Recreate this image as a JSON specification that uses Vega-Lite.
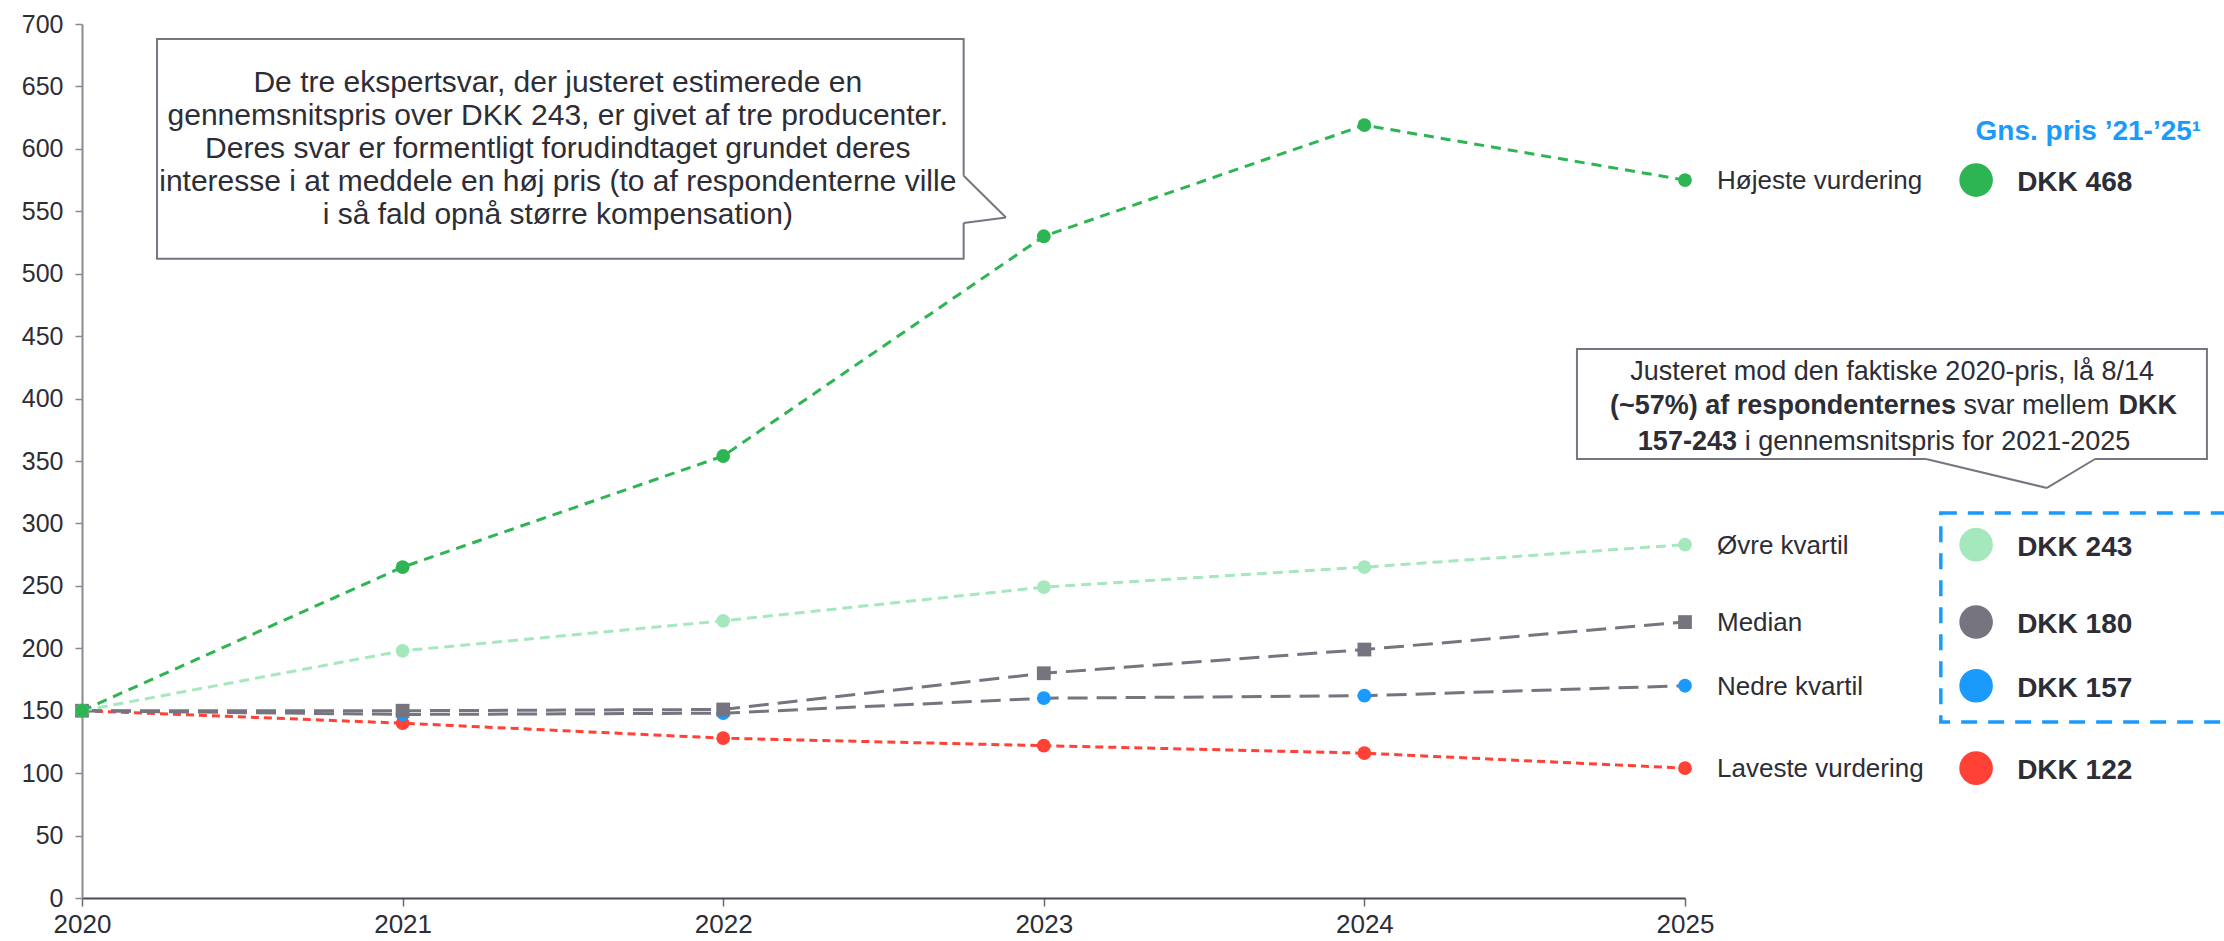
{
  "$schema": "https://vega.github.io/schema/vega-lite/v6.json",
  "width": 1603,
  "height": 874,
  "autosize": {"type": "none"},
  "padding": {"left": 82, "top": 24, "right": 539, "bottom": 43},
  "background": "white",
  "config": {"view": {"stroke": null}, "font": "Liberation Sans", "text": {"font": "Liberation Sans"}},
  "datasets": {
    "prices": [
      {"series": "Laveste vurdering", "year": 2020, "value": 150},
      {"series": "Laveste vurdering", "year": 2021, "value": 140},
      {"series": "Laveste vurdering", "year": 2022, "value": 128},
      {"series": "Laveste vurdering", "year": 2023, "value": 122},
      {"series": "Laveste vurdering", "year": 2024, "value": 116},
      {"series": "Laveste vurdering", "year": 2025, "value": 104},
      {"series": "Nedre kvartil", "year": 2020, "value": 150},
      {"series": "Nedre kvartil", "year": 2021, "value": 147},
      {"series": "Nedre kvartil", "year": 2022, "value": 148},
      {"series": "Nedre kvartil", "year": 2023, "value": 160},
      {"series": "Nedre kvartil", "year": 2024, "value": 162},
      {"series": "Nedre kvartil", "year": 2025, "value": 170},
      {"series": "Median", "year": 2020, "value": 150},
      {"series": "Median", "year": 2021, "value": 150},
      {"series": "Median", "year": 2022, "value": 151},
      {"series": "Median", "year": 2023, "value": 180},
      {"series": "Median", "year": 2024, "value": 199},
      {"series": "Median", "year": 2025, "value": 221},
      {"series": "Øvre kvartil", "year": 2020, "value": 150},
      {"series": "Øvre kvartil", "year": 2021, "value": 198},
      {"series": "Øvre kvartil", "year": 2022, "value": 222},
      {"series": "Øvre kvartil", "year": 2023, "value": 249},
      {"series": "Øvre kvartil", "year": 2024, "value": 265},
      {"series": "Øvre kvartil", "year": 2025, "value": 283},
      {"series": "Højeste vurdering", "year": 2020, "value": 150},
      {"series": "Højeste vurdering", "year": 2021, "value": 265},
      {"series": "Højeste vurdering", "year": 2022, "value": 354},
      {"series": "Højeste vurdering", "year": 2023, "value": 530},
      {"series": "Højeste vurdering", "year": 2024, "value": 619},
      {"series": "Højeste vurdering", "year": 2025, "value": 575}
    ],
    "avg": [
      {"series": "Højeste vurdering", "avg": 468},
      {"series": "Øvre kvartil", "avg": 243},
      {"series": "Median", "avg": 180},
      {"series": "Nedre kvartil", "avg": 157},
      {"series": "Laveste vurdering", "avg": 122}
    ],
    "one": [{}]
  },
  "layer": [
    {
      "data": {"name": "prices"},
      "mark": {"type": "line", "strokeWidth": 3},
      "encoding": {
        "x": {"field": "year", "type": "quantitative",
          "scale": {"domain": [2020, 2025], "nice": false, "zero": false},
          "axis": {"values": [2020, 2021, 2022, 2023, 2024, 2025], "format": "d", "title": null, "grid": false, "labelFlush": false,
            "labelFontSize": 26, "labelColor": "#2d2d36", "labelFont": "Liberation Sans", "domainColor": "#4a4a55", "domainWidth": 2,
            "tickColor": "#6a6a75", "tickWidth": 1.5, "tickSize": 8, "labelPadding": 5}},
        "y": {"field": "value", "type": "quantitative",
          "scale": {"domain": [0, 700], "nice": false},
          "axis": {"values": [0, 50, 100, 150, 200, 250, 300, 350, 400, 450, 500, 550, 600, 650, 700], "title": null, "grid": false,
            "labelFontSize": 25, "labelColor": "#2d2d36", "labelFont": "Liberation Sans", "domainColor": "#8a8a92", "domainWidth": 2,
            "tickColor": "#8a8a92", "tickWidth": 1.5, "tickSize": 7, "labelPadding": 12}},
        "stroke": {"field": "series", "type": "nominal", "legend": null,
          "scale": {"domain": ["Laveste vurdering", "Nedre kvartil", "Median", "Øvre kvartil", "Højeste vurdering"],
            "range": ["#FF4136", "#75747F", "#75747F", "#A6E8BE", "#2DB553"]}},
        "strokeDash": {"field": "series", "type": "nominal", "legend": null,
          "scale": {"domain": ["Laveste vurdering", "Nedre kvartil", "Median", "Øvre kvartil", "Højeste vurdering"],
            "range": [[8, 5], [20, 9], [20, 9], [10, 6], [10, 7]]}}
      }
    },
    {
      "data": {"name": "prices"},
      "mark": {"type": "point", "filled": true, "opacity": 1, "size": 190, "strokeWidth": 0},
      "encoding": {
        "x": {"field": "year", "type": "quantitative"},
        "y": {"field": "value", "type": "quantitative"},
        "fill": {"field": "series", "type": "nominal", "legend": null,
          "scale": {"domain": ["Laveste vurdering", "Nedre kvartil", "Median", "Øvre kvartil", "Højeste vurdering"],
            "range": ["#FF4136", "#1A9BFC", "#75747F", "#A6E8BE", "#2DB553"]}},
        "shape": {"field": "series", "type": "nominal", "legend": null,
          "scale": {"domain": ["Laveste vurdering", "Nedre kvartil", "Median", "Øvre kvartil", "Højeste vurdering"],
            "range": ["circle", "circle", "square", "circle", "circle"]}}
      }
    },
    {
      "data": {"name": "prices"},
      "transform": [{"filter": "datum.year == 2025"}],
      "mark": {"type": "text", "align": "left", "baseline": "middle", "dx": 32, "dy": 1, "fontSize": 26, "fill": "#2d2d36", "font": "Liberation Sans"},
      "encoding": {
        "x": {"field": "year", "type": "quantitative"},
        "y": {"field": "value", "type": "quantitative"},
        "text": {"field": "series", "type": "nominal"}
      }
    },
    {
      "data": {"name": "prices"},
      "transform": [{"filter": "datum.year == 2025"}],
      "mark": {"type": "point", "filled": true, "opacity": 1, "size": 1130, "shape": "circle", "strokeWidth": 0},
      "encoding": {
        "x": {"datum": 2025.908, "type": "quantitative"},
        "y": {"field": "value", "type": "quantitative"},
        "fill": {"field": "series", "type": "nominal", "legend": null}
      }
    },
    {
      "data": {"name": "prices"},
      "transform": [
        {"filter": "datum.year == 2025"},
        {"lookup": "series", "from": {"data": {"name": "avg"}, "key": "series", "fields": ["avg"]}},
        {"calculate": "'DKK ' + datum.avg", "as": "label"}
      ],
      "mark": {"type": "text", "align": "left", "baseline": "middle", "dy": 3, "fontSize": 28, "fontWeight": "bold", "fill": "#2d2d36", "font": "Liberation Sans"},
      "encoding": {
        "x": {"datum": 2026.036, "type": "quantitative"},
        "y": {"field": "value", "type": "quantitative"},
        "text": {"field": "label", "type": "nominal"}
      }
    },
    {
      "data": {"name": "one"},
      "mark": {"type": "text", "align": "right", "baseline": "middle", "fontSize": 28, "fontWeight": "bold", "fill": "#1A9BFC", "font": "Liberation Sans"},
      "encoding": {
        "x": {"datum": 2026.61, "type": "quantitative"},
        "y": {"datum": 613.5, "type": "quantitative"},
        "text": {"value": "Gns. pris ’21-’25¹"}
      }
    },
    {
      "data": {"name": "one"},
      "mark": {"type": "rect", "fill": null, "fillOpacity": 0, "stroke": "#1A9BFC", "strokeWidth": 3.5, "strokeDash": [16, 11]},
      "encoding": {
        "x": {"datum": 2025.798, "type": "quantitative"},
        "x2": {"datum": 2026.75},
        "y": {"datum": 308.3, "type": "quantitative"},
        "y2": {"datum": 141.0}
      }
    },
    {
      "data": {"name": "one"},
      "mark": {"type": "rect", "fill": "white", "stroke": "#767680", "strokeWidth": 2},
      "encoding": {
        "x": {"datum": 2020.234, "type": "quantitative"},
        "x2": {"datum": 2022.75},
        "y": {"datum": 688.0, "type": "quantitative"},
        "y2": {"datum": 512.0}
      }
    },
    {
      "data": {"name": "one"},
      "mark": {"type": "rule", "stroke": "white", "strokeWidth": 4},
      "encoding": {
        "x": {"datum": 2022.75, "type": "quantitative"},
        "y": {"datum": 578.5, "type": "quantitative"},
        "y2": {"datum": 540.6}
      }
    },
    {
      "data": {"name": "one"},
      "mark": {"type": "rule", "stroke": "#767680", "strokeWidth": 2},
      "encoding": {
        "x": {"datum": 2022.75, "type": "quantitative"},
        "x2": {"datum": 2022.882},
        "y": {"datum": 578.5, "type": "quantitative"},
        "y2": {"datum": 545.0}
      }
    },
    {
      "data": {"name": "one"},
      "mark": {"type": "rule", "stroke": "#767680", "strokeWidth": 2},
      "encoding": {
        "x": {"datum": 2022.882, "type": "quantitative"},
        "x2": {"datum": 2022.75},
        "y": {"datum": 545.0, "type": "quantitative"},
        "y2": {"datum": 540.6}
      }
    },
    {
      "data": {"name": "one"},
      "mark": {"type": "text", "align": "center", "baseline": "middle", "fontSize": 30, "lineHeight": 33, "fill": "#2d2d36", "font": "Liberation Sans"},
      "encoding": {
        "x": {"datum": 2021.484, "type": "quantitative"},
        "y": {"datum": 653.0, "type": "quantitative"},
        "text": {"value": ["De tre ekspertsvar, der justeret estimerede en", "gennemsnitspris over DKK 243, er givet af tre producenter.", "Deres svar er formentligt forudindtaget grundet deres", "interesse i at meddele en høj pris (to af respondenterne ville", "i så fald opnå større kompensation)"]}
      }
    },
    {
      "data": {"name": "one"},
      "mark": {"type": "rect", "fill": "white", "stroke": "#767680", "strokeWidth": 2},
      "encoding": {
        "x": {"datum": 2024.663, "type": "quantitative"},
        "x2": {"datum": 2026.628},
        "y": {"datum": 439.7, "type": "quantitative"},
        "y2": {"datum": 351.6}
      }
    },
    {
      "data": {"name": "one"},
      "mark": {"type": "rule", "stroke": "white", "strokeWidth": 4},
      "encoding": {
        "x": {"datum": 2025.752, "type": "quantitative"},
        "x2": {"datum": 2026.279},
        "y": {"datum": 351.6, "type": "quantitative"}
      }
    },
    {
      "data": {"name": "one"},
      "mark": {"type": "rule", "stroke": "#767680", "strokeWidth": 2},
      "encoding": {
        "x": {"datum": 2025.752, "type": "quantitative"},
        "x2": {"datum": 2026.129},
        "y": {"datum": 351.6, "type": "quantitative"},
        "y2": {"datum": 328.4}
      }
    },
    {
      "data": {"name": "one"},
      "mark": {"type": "rule", "stroke": "#767680", "strokeWidth": 2},
      "encoding": {
        "x": {"datum": 2026.129, "type": "quantitative"},
        "x2": {"datum": 2026.279},
        "y": {"datum": 328.4, "type": "quantitative"},
        "y2": {"datum": 351.6}
      }
    },
    {
      "data": {"name": "one"},
      "mark": {"type": "text", "align": "center", "baseline": "middle", "fontSize": 27, "fill": "#2d2d36", "font": "Liberation Sans"},
      "encoding": {
        "x": {"datum": 2025.646, "type": "quantitative"},
        "y": {"datum": 421.3, "type": "quantitative"},
        "text": {"value": "Justeret mod den faktiske 2020-pris, lå 8/14"}
      }
    },
    {
      "data": {"name": "one"},
      "mark": {"type": "text", "align": "right", "baseline": "middle", "fontSize": 27, "fontWeight": "bold", "fill": "#2d2d36", "font": "Liberation Sans"},
      "encoding": {
        "x": {"datum": 2025.845, "type": "quantitative"},
        "y": {"datum": 394.0, "type": "quantitative"},
        "text": {"value": "(~57%) af respondenternes"}
      }
    },
    {
      "data": {"name": "one"},
      "mark": {"type": "text", "align": "left", "baseline": "middle", "fontSize": 27, "fill": "#2d2d36", "font": "Liberation Sans"},
      "encoding": {
        "x": {"datum": 2025.869, "type": "quantitative"},
        "y": {"datum": 394.0, "type": "quantitative"},
        "text": {"value": "svar mellem"}
      }
    },
    {
      "data": {"name": "one"},
      "mark": {"type": "text", "align": "right", "baseline": "middle", "fontSize": 27, "fontWeight": "bold", "fill": "#2d2d36", "font": "Liberation Sans"},
      "encoding": {
        "x": {"datum": 2026.535, "type": "quantitative"},
        "y": {"datum": 394.0, "type": "quantitative"},
        "text": {"value": "DKK"}
      }
    },
    {
      "data": {"name": "one"},
      "mark": {"type": "text", "align": "right", "baseline": "middle", "fontSize": 27, "fontWeight": "bold", "fill": "#2d2d36", "font": "Liberation Sans"},
      "encoding": {
        "x": {"datum": 2025.162, "type": "quantitative"},
        "y": {"datum": 365.2, "type": "quantitative"},
        "text": {"value": "157-243"}
      }
    },
    {
      "data": {"name": "one"},
      "mark": {"type": "text", "align": "left", "baseline": "middle", "fontSize": 27, "fill": "#2d2d36", "font": "Liberation Sans"},
      "encoding": {
        "x": {"datum": 2025.186, "type": "quantitative"},
        "y": {"datum": 365.2, "type": "quantitative"},
        "text": {"value": "i gennemsnitspris for 2021-2025"}
      }
    }
  ]
}
